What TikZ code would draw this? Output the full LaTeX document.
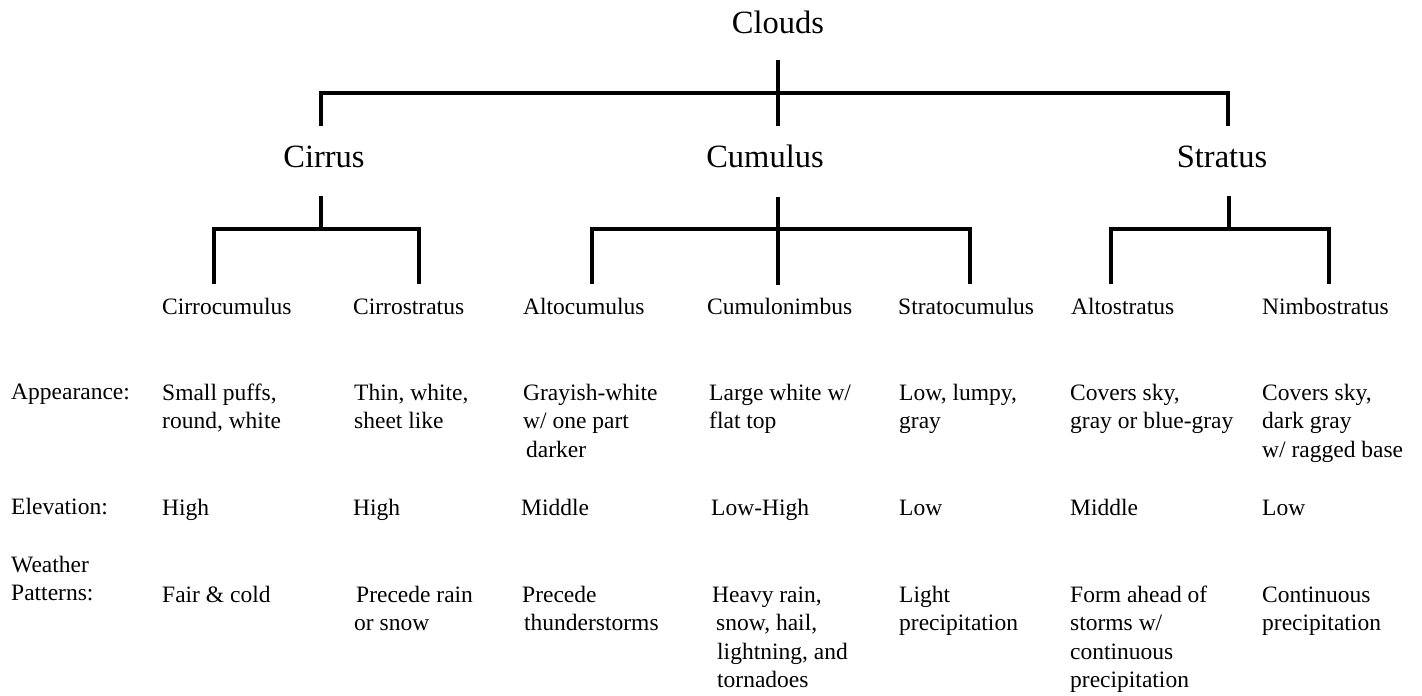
\documentclass[tikz,border=0pt]{standalone}
\usepackage{fontspec}
\setmainfont{Liberation Serif}
\newcommand\mlines[1]{\begin{tabular}[t]{@{}l@{}}#1\end{tabular}}
\begin{document}
\begin{tikzpicture}[x=1pt,y=-1pt,
  big/.style={font=\fontsize{32.5}{39}\selectfont, inner sep=0pt, anchor=base},
  txt/.style={font=\fontsize{23.5}{28.5}\selectfont, inner sep=0pt, anchor=base west},
  branch/.style={line width=3.8pt, line join=miter}]
\useasboundingbox (0,0) rectangle (1422,696);

% level 0 and 1
\node[big] (clouds) at (778,34) {Clouds};
\node[big] (cirrus) at (324,167) {Cirrus};
\node[big] (cumulus) at (765,167) {Cumulus};
\node[big] (stratus) at (1222,167) {Stratus};

% level 2
\node[txt] (cirrocu) at (162,314) {Cirrocumulus};
\node[txt] (cirrost) at (353,314) {Cirrostratus};
\node[txt] (altocu) at (523,314) {Altocumulus};
\node[txt] (cumulonim) at (707,314) {Cumulonimbus};
\node[txt] (stratocu) at (898,314) {Stratocumulus};
\node[txt] (altost) at (1071,314) {Altostratus};
\node[txt] (nimbost) at (1262,314) {Nimbostratus};

% connector points
\coordinate (cT) at (778,60);
\coordinate (cB) at (778,126);
\coordinate (hL) at (321,93);
\coordinate (hLb) at (321,126);
\coordinate (hR) at (1228,93);
\coordinate (hRb) at (1228,126);

\coordinate (ciT) at (321,196);
\coordinate (ciJ) at (321,229);
\coordinate (ciL) at (214,284);
\coordinate (ciR) at (419,284);

\coordinate (cuT) at (778,197);
\coordinate (cuJ) at (778,229);
\coordinate (cuB) at (778,285);
\coordinate (cuL) at (592,284);
\coordinate (cuR) at (970,284);

\coordinate (stT) at (1229,196);
\coordinate (stJ) at (1229,229);
\coordinate (stL) at (1111,284);
\coordinate (stR) at (1329,284);

% connectors
\draw[branch] (cT) -- (cB);
\draw[branch] (hLb) -- (hL) -- (hR) -- (hRb);

\draw[branch] (ciT) -- (ciJ);
\draw[branch] (ciL) -- (ciL |- ciJ) -- (ciR |- ciJ) -- (ciR);

\draw[branch] (cuT) -- (cuB);
\draw[branch] (cuL) -- (cuL |- cuJ) -- (cuR |- cuJ) -- (cuR);

\draw[branch] (stT) -- (stJ);
\draw[branch] (stL) -- (stL |- stJ) -- (stR |- stJ) -- (stR);

% row labels
\node[txt] (lapp) at (11,399) {Appearance:};
\node[txt] (lelev) at (11,514) {Elevation:};
\node[txt] (lweath) at (11,572) {\mlines{Weather\\Patterns:}};

% appearance
\node[txt] (a1) at (162,400) {\mlines{Small puffs,\\round, white}};
\node[txt] (a2) at (354,400) {\mlines{Thin, white,\\sheet like}};
\node[txt] (a3) at (523,400) {\mlines{Grayish-white\\w/ one part\\\hspace{3pt}darker}};
\node[txt] (a4) at (709,400) {\mlines{Large white w/\\flat top}};
\node[txt] (a5) at (899,400) {\mlines{Low, lumpy,\\gray}};
\node[txt] (a6) at (1070,400) {\mlines{Covers sky,\\gray or blue-gray}};
\node[txt] (a7) at (1262,400) {\mlines{Covers sky,\\dark gray\\w/ ragged base}};

% elevation
\node[txt] (e1) at (162,515) {High};
\node[txt] (e2) at (353,515) {High};
\node[txt] (e3) at (521,515) {Middle};
\node[txt] (e4) at (711,515) {Low-High};
\node[txt] (e5) at (899,515) {Low};
\node[txt] (e6) at (1070,515) {Middle};
\node[txt] (e7) at (1262,515) {Low};

% weather patterns
\node[txt] (w1) at (162,602) {Fair \& cold};
\node[txt] (w2) at (354,602) {\mlines{\hspace{2pt}Precede rain\\or snow}};
\node[txt] (w3) at (522,602) {\mlines{Precede\\\hspace{2pt}thunderstorms}};
\node[txt] (w4) at (712,602) {\mlines{Heavy rain,\\\hspace{4pt}snow, hail,\\\hspace{5pt}lightning, and\\\hspace{5pt}tornadoes}};
\node[txt] (w5) at (899,602) {\mlines{Light\\precipitation}};
\node[txt] (w6) at (1070,602) {\mlines{Form ahead of\\storms w/\\continuous\\precipitation}};
\node[txt] (w7) at (1262,602) {\mlines{Continuous\\precipitation}};
\end{tikzpicture}
\end{document}
